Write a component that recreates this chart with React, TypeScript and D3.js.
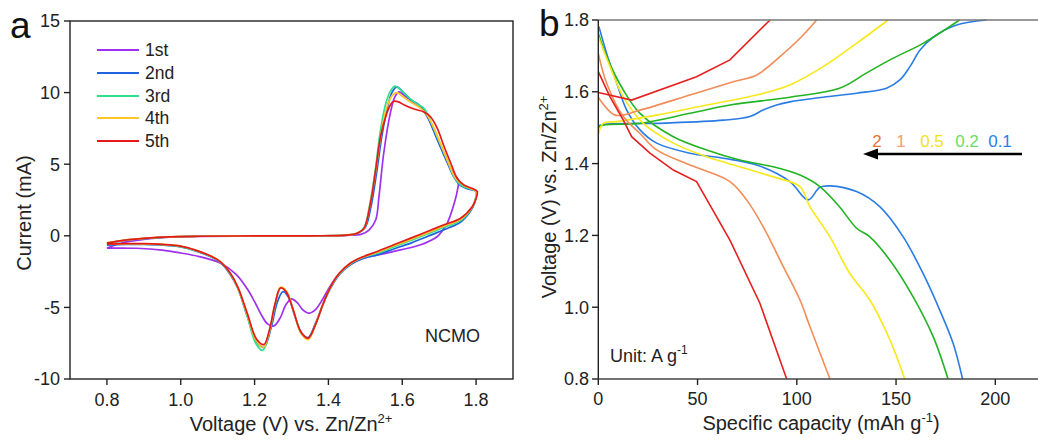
import React from "react";
import * as d3 from "d3";

// ---------- Panel a: CV curves (voltage V, current mA) ----------
const cycleLabels = ["1st", "2nd", "3rd", "4th", "5th"];
const cycleColors = ["#a030f0", "#2062e0", "#2ee08e", "#ffc42a", "#e41a1a"];

const cycle1: [number, number][] = [
  [0.8, -0.86], [0.84, -0.5], [0.9, -0.25], [0.97, -0.1], [1.05, -0.04], [1.2, -0.01], [1.35, 0], [1.45, 0.03], [1.49, 0.12], [1.51, 0.4], [1.528, 1.1], [1.537, 2.75], [1.55, 5.8], [1.568, 8.6], [1.58, 9.7], [1.591, 10.05], [1.61, 9.7], [1.635, 9.25], [1.66, 8.7], [1.68, 7.7], [1.7, 6.5], [1.722, 5.2], [1.74, 4.3], [1.752, 3.9],
  [1.748, 3.0], [1.74, 2.2], [1.73, 1.4], [1.722, 0.89], [1.71, 0.4], [1.695, -0.05], [1.65, -0.63], [1.596, -0.98], [1.541, -1.3], [1.496, -1.56], [1.46, -2.0], [1.43, -2.6], [1.405, -3.5], [1.385, -4.4], [1.365, -5.15], [1.347, -5.4], [1.33, -5.15], [1.315, -4.65], [1.3, -4.4], [1.285, -4.8], [1.27, -5.7], [1.252, -6.3], [1.235, -6.15], [1.22, -5.6], [1.2, -4.6], [1.18, -3.7], [1.15, -2.7], [1.107, -1.9], [1.05, -1.45], [1.0, -1.2], [0.95, -1.0], [0.88, -0.87], [0.8, -0.86],
];
const cycle2: [number, number][] = [
  [0.8, -0.55], [0.85, -0.32], [0.9, -0.2], [0.97, -0.08], [1.05, -0.03], [1.2, -0.01], [1.35, 0], [1.45, 0.04], [1.48, 0.18], [1.5, 0.6], [1.515, 2.0], [1.53, 4.3], [1.545, 7.0], [1.56, 9.0], [1.572, 10.0], [1.585, 10.4], [1.6, 10.1], [1.623, 9.5], [1.645, 9.15], [1.668, 8.3], [1.695, 6.7], [1.722, 5.1], [1.74, 4.1], [1.758, 3.5], [1.78, 3.25], [1.8, 3.1],
  [1.798, 2.5], [1.79, 1.93], [1.76, 1.0], [1.713, 0.42], [1.668, -0.05], [1.623, -0.51], [1.577, -0.92], [1.532, -1.33], [1.49, -1.6], [1.46, -2.0], [1.43, -2.7], [1.405, -3.7], [1.385, -4.8], [1.365, -6.1], [1.345, -7.1], [1.328, -6.8], [1.31, -5.7], [1.292, -4.3], [1.277, -3.9], [1.262, -4.6], [1.245, -6.4], [1.225, -7.8], [1.205, -7.4], [1.18, -5.6], [1.155, -3.7], [1.134, -2.7], [1.107, -1.85], [1.08, -1.45], [1.04, -1.05], [1.0, -0.78], [0.95, -0.65], [0.9, -0.6], [0.85, -0.6], [0.8, -0.65],
];
const cycle3: [number, number][] = [
  [0.8, -0.52], [0.85, -0.3], [0.9, -0.19], [0.97, -0.07], [1.05, -0.03], [1.2, -0.01], [1.35, 0], [1.45, 0.05], [1.48, 0.2], [1.497, 0.6], [1.512, 2.2], [1.527, 4.6], [1.54, 7.2], [1.555, 9.2], [1.568, 10.1], [1.58, 10.45], [1.595, 10.2], [1.62, 9.6], [1.64, 9.2], [1.659, 8.9], [1.677, 8.0], [1.695, 6.9], [1.722, 5.3], [1.74, 4.14], [1.758, 3.56], [1.78, 3.3], [1.8, 3.15],
  [1.798, 2.55], [1.79, 2.0], [1.76, 1.1], [1.713, 0.6], [1.668, 0.12], [1.623, -0.33], [1.577, -0.78], [1.532, -1.22], [1.49, -1.55], [1.46, -1.95], [1.43, -2.65], [1.405, -3.65], [1.385, -4.8], [1.365, -6.2], [1.345, -7.2], [1.326, -6.8], [1.306, -5.3], [1.287, -3.9], [1.271, -3.65], [1.256, -4.8], [1.24, -6.7], [1.222, -8.0], [1.203, -7.5], [1.18, -5.6], [1.155, -3.7], [1.134, -2.65], [1.107, -1.82], [1.08, -1.42], [1.04, -1.02], [1.0, -0.75], [0.95, -0.62], [0.9, -0.57], [0.85, -0.57], [0.8, -0.6],
];
const cycle4: [number, number][] = [
  [0.8, -0.5], [0.85, -0.3], [0.9, -0.18], [0.97, -0.07], [1.05, -0.03], [1.2, -0.01], [1.35, 0], [1.45, 0.05], [1.48, 0.2], [1.497, 0.55], [1.513, 2.2], [1.528, 4.5], [1.542, 7.0], [1.556, 8.8], [1.57, 9.7], [1.585, 10.0], [1.6, 9.75], [1.625, 9.3], [1.65, 8.9], [1.668, 8.4], [1.686, 7.5], [1.704, 6.4], [1.725, 5.1], [1.745, 4.0], [1.765, 3.55], [1.785, 3.3], [1.8, 3.12],
  [1.799, 2.58], [1.79, 2.03], [1.758, 1.15], [1.713, 0.68], [1.668, 0.2], [1.623, -0.25], [1.577, -0.7], [1.532, -1.15], [1.49, -1.52], [1.46, -1.92], [1.43, -2.62], [1.405, -3.62], [1.385, -4.8], [1.365, -6.2], [1.345, -7.25], [1.325, -6.75], [1.305, -5.2], [1.286, -3.85], [1.27, -3.6], [1.255, -4.8], [1.24, -6.7], [1.223, -7.8], [1.204, -7.3], [1.18, -5.5], [1.155, -3.65], [1.134, -2.62], [1.107, -1.8], [1.08, -1.4], [1.04, -1.0], [1.0, -0.73], [0.95, -0.6], [0.9, -0.56], [0.85, -0.56], [0.8, -0.59],
];
const cycle5: [number, number][] = [
  [0.8, -0.5], [0.85, -0.3], [0.9, -0.18], [0.97, -0.07], [1.05, -0.03], [1.2, -0.01], [1.35, 0], [1.45, 0.05], [1.48, 0.2], [1.496, 0.5], [1.514, 2.3], [1.528, 4.6], [1.541, 6.9], [1.555, 8.3], [1.568, 9.15], [1.577, 9.4], [1.59, 9.35], [1.604, 9.15], [1.632, 8.85], [1.659, 8.65], [1.677, 8.3], [1.695, 7.5], [1.713, 6.25], [1.731, 5.1], [1.749, 4.0], [1.767, 3.55], [1.79, 3.3], [1.803, 3.1],
  [1.8, 2.6], [1.79, 2.05], [1.758, 1.23], [1.713, 0.77], [1.668, 0.3], [1.623, -0.16], [1.577, -0.63], [1.532, -1.1], [1.49, -1.5], [1.46, -1.9], [1.43, -2.6], [1.405, -3.6], [1.385, -4.8], [1.365, -6.2], [1.345, -7.15], [1.325, -6.7], [1.305, -5.2], [1.285, -3.9], [1.27, -3.65], [1.255, -4.8], [1.24, -6.6], [1.225, -7.6], [1.205, -7.2], [1.18, -5.4], [1.155, -3.6], [1.134, -2.6], [1.107, -1.8], [1.08, -1.4], [1.04, -1.0], [1.0, -0.72], [0.95, -0.6], [0.9, -0.55], [0.85, -0.55], [0.8, -0.58],
];
const cycles = [cycle1, cycle2, cycle3, cycle4, cycle5];
const aXTicks = [0.8, 1.0, 1.2, 1.4, 1.6, 1.8];
const aYTicks = [-10, -5, 0, 5, 10, 15];

// ---------- Panel b: GCD curves (capacity mAh/g, voltage V) ----------
const rateLabels = ["2", "1", "0.5", "0.2", "0.1"];
const rateLabelColors = ["#f07030", "#f4a070", "#f2e020", "#66e066", "#2a80e8"];
const rateLineColors = ["#e62020", "#f28c58", "#f8e81c", "#22b422", "#2a7ce4"];

const charge01: [number, number][] = [[0, 1.11], [0, 1.5], [0.9, 1.507], [29.4, 1.512], [63, 1.521], [76.4, 1.531], [83, 1.549], [89.8, 1.563], [96.5, 1.572], [113.3, 1.585], [130.1, 1.596], [145.2, 1.61], [151.9, 1.633], [157, 1.67], [162, 1.716], [168.7, 1.752], [180.5, 1.786], [195.6, 1.8]];
const discharge01: [number, number][] = [[0.3, 1.782], [4.2, 1.707], [9.3, 1.624], [14.3, 1.549], [21, 1.494], [29.4, 1.457], [46.2, 1.429], [63, 1.415], [79.8, 1.396], [96.5, 1.35], [105.7, 1.299], [111.6, 1.334], [116.7, 1.338], [130.1, 1.322], [141.8, 1.28], [153.6, 1.196], [163.6, 1.094], [172, 0.992], [178.7, 0.9], [183.5, 0.8]];
const charge02: [number, number][] = [[0, 1.2], [0, 1.5], [2.5, 1.507], [21, 1.512], [46.2, 1.54], [66.3, 1.563], [96.5, 1.585], [121.5, 1.61], [135, 1.652], [146.9, 1.689], [163.6, 1.735], [182, 1.8]];
const discharge02: [number, number][] = [[0, 1.763], [4.2, 1.698], [12.6, 1.605], [21, 1.54], [37.8, 1.475], [54.6, 1.438], [71.3, 1.41], [88.1, 1.391], [101.6, 1.368], [111.6, 1.336], [121.5, 1.28], [130.1, 1.22], [136.8, 1.196], [146.9, 1.131], [158.6, 1.029], [168.7, 0.918], [176.2, 0.8]];
const charge05: [number, number][] = [[0, 1.48], [2.5, 1.512], [9.3, 1.517], [29.4, 1.535], [54.6, 1.563], [79.8, 1.591], [96.5, 1.619], [113.3, 1.67], [130.1, 1.735], [146, 1.8]];
const discharge05: [number, number][] = [[0, 1.754], [5.9, 1.67], [12.6, 1.586], [22.7, 1.512], [37.8, 1.457], [54.6, 1.419], [71.3, 1.391], [88.1, 1.363], [101.6, 1.336], [106.6, 1.28], [116.7, 1.196], [126.7, 1.094], [136.8, 1.02], [146.9, 0.909], [154.4, 0.8]];
const charge1: [number, number][] = [[0, 1.585], [8.4, 1.535], [21, 1.549], [46.2, 1.591], [68, 1.628], [79.8, 1.647], [91.5, 1.698], [101.6, 1.749], [110, 1.8]];
const discharge1: [number, number][] = [[0, 1.707], [4.2, 1.624], [12.6, 1.531], [21, 1.484], [29.4, 1.438], [46.2, 1.396], [66.3, 1.35], [74.7, 1.299], [83.1, 1.224], [93.2, 1.113], [101.6, 1.02], [106.6, 0.946], [116.7, 0.8]];
const charge2: [number, number][] = [[0, 1.598], [16.8, 1.577], [49.5, 1.642], [66.3, 1.689], [86.5, 1.8]];
const discharge2: [number, number][] = [[0, 1.656], [5.9, 1.586], [12.6, 1.521], [16.8, 1.475], [26, 1.429], [37.8, 1.382], [49.5, 1.35], [66.3, 1.187], [81.4, 1.011], [94.9, 0.8]];

const bSeries = [
  { color: rateLineColors[4], charge: charge01, discharge: discharge01 },
  { color: rateLineColors[3], charge: charge02, discharge: discharge02 },
  { color: rateLineColors[2], charge: charge05, discharge: discharge05 },
  { color: rateLineColors[1], charge: charge1, discharge: discharge1 },
  { color: rateLineColors[0], charge: charge2, discharge: discharge2 },
];
const bXTicks = [0, 50, 100, 150, 200];
const bYTicks = [0.8, 1.0, 1.2, 1.4, 1.6, 1.8];

const FONT = "'Liberation Sans', Arial, sans-serif";

export default function App() {
  const ax = d3.scaleLinear().domain([0.7, 1.9]).range([70, 513]);
  const ay = d3.scaleLinear().domain([-10, 15]).range([379, 21]);
  const aLine = d3
    .line<[number, number]>()
    .x((d) => ax(d[0]))
    .y((d) => ay(d[1]))
    .curve(d3.curveCatmullRom.alpha(0.5));

  const bx = d3.scaleLinear().domain([0, 220.5]).range([598.3, 1036]);
  const by = d3.scaleLinear().domain([0.8, 1.8]).range([379, 20]);
  const bLineSmooth = d3
    .line<[number, number]>()
    .x((d) => bx(d[0]))
    .y((d) => by(d[1]))
    .curve(d3.curveCatmullRom.alpha(0.5));
  const bLineLin = d3
    .line<[number, number]>()
    .x((d) => bx(d[0]))
    .y((d) => by(d[1]));

  const legendY = [50, 73, 96, 118, 141];
  const rateX = [877, 901, 932, 967, 1000];

  return (
    <svg width={1038} height={440} style={{ display: "block", position: "absolute", left: 0, top: 0 }} fontFamily={FONT}>
      <rect x={0} y={0} width={1038} height={440} fill="#fff" />
      <defs>
        <clipPath id="clipB">
          <rect x={598.3} y={19} width={440} height={360} />
        </clipPath>
        <clipPath id="clipA">
          <rect x={70} y={21} width={443} height={358} />
        </clipPath>
      </defs>

      {/* ---------------- Panel a ---------------- */}
      <text x={10} y={38} fontSize={37} fill="#111">a</text>
      <g clipPath="url(#clipA)">
        {cycles.map((c, i) => (
          <path key={i} d={aLine(c) || ""} fill="none" stroke={cycleColors[i]} strokeWidth={1.7} />
        ))}
      </g>
      <rect x={70} y={21} width={443} height={358} fill="none" stroke="#222" strokeWidth={1.4} />
      {aYTicks.map((t) => (
        <g key={t}>
          <line x1={64} x2={70} y1={ay(t)} y2={ay(t)} stroke="#222" strokeWidth={1.4} />
          <text x={60} y={ay(t)} dy="0.36em" textAnchor="end" fontSize={18} fill="#222">{t}</text>
        </g>
      ))}
      {aXTicks.map((t) => (
        <g key={t}>
          <line x1={ax(t)} x2={ax(t)} y1={379} y2={385} stroke="#222" strokeWidth={1.4} />
          <text x={ax(t)} y={406} textAnchor="middle" fontSize={18} fill="#222">{t.toFixed(1)}</text>
        </g>
      ))}
      <text x={291} y={431} textAnchor="middle" fontSize={20} fill="#222">
        Voltage (V) vs. Zn/Zn<tspan dy={-8} fontSize={13}>2+</tspan>
      </text>
      <text transform="translate(31,213) rotate(-90)" textAnchor="middle" fontSize={20} fill="#222">Current (mA)</text>
      {cycleLabels.map((l, i) => (
        <g key={l}>
          <line x1={97} x2={139} y1={legendY[i]} y2={legendY[i]} stroke={cycleColors[i]} strokeWidth={1.8} />
          <text x={145} y={legendY[i]} dy="0.36em" fontSize={17.5} fill="#222">{l}</text>
        </g>
      ))}
      <text x={425} y={342} fontSize={18} fill="#222">NCMO</text>

      {/* ---------------- Panel b ---------------- */}
      <text x={539} y={36} fontSize={37} fill="#111">b</text>
      <g clipPath="url(#clipB)">
        {bSeries.map((s, i) => {
          const gen = i === 4 ? bLineLin : bLineSmooth;
          return (
            <g key={i}>
              <path d={gen(s.charge) || ""} fill="none" stroke={s.color} strokeWidth={1.6} />
              <path d={gen(s.discharge) || ""} fill="none" stroke={s.color} strokeWidth={1.6} />
            </g>
          );
        })}
      </g>
      <line x1={598.3} x2={1038} y1={20} y2={20} stroke="#777" strokeWidth={1.4} />
      <line x1={598.3} x2={598.3} y1={20} y2={379} stroke="#222" strokeWidth={1.4} />
      <line x1={598.3} x2={1038} y1={379} y2={379} stroke="#444" strokeWidth={1.4} />
      {bYTicks.map((t) => (
        <g key={t}>
          <line x1={592} x2={598.3} y1={by(t)} y2={by(t)} stroke="#222" strokeWidth={1.4} />
          <text x={589} y={by(t)} dy="0.36em" textAnchor="end" fontSize={18} fill="#222">{t.toFixed(1)}</text>
        </g>
      ))}
      {bXTicks.map((t) => (
        <g key={t}>
          <line x1={bx(t)} x2={bx(t)} y1={379} y2={385} stroke="#222" strokeWidth={1.4} />
          <text x={bx(t)} y={405} textAnchor="middle" fontSize={18} fill="#222">{t}</text>
        </g>
      ))}
      <text x={821} y={430} textAnchor="middle" fontSize={20} fill="#222">
        Specific capacity (mAh g<tspan dy={-8} fontSize={13}>-1</tspan><tspan dy={8}>)</tspan>
      </text>
      <text transform="translate(556,197) rotate(-90)" textAnchor="middle" fontSize={20} fill="#222">
        Voltage (V) vs. Zn/Zn<tspan dy={-8} fontSize={13}>2+</tspan>
      </text>
      {rateLabels.map((l, i) => (
        <text key={l} x={rateX[i]} y={147} textAnchor="middle" fontSize={17} fill={rateLabelColors[i]}>{l}</text>
      ))}
      <line x1={1022} x2={872} y1={154} y2={154} stroke="#000" strokeWidth={2.6} />
      <path d="M863,154 L878,148.5 L878,159.5 Z" fill="#000" />
      <text x={610} y={362} fontSize={18} fill="#222">
        Unit: A g<tspan dy={-8} fontSize={12}>-1</tspan>
      </text>
    </svg>
  );
}
